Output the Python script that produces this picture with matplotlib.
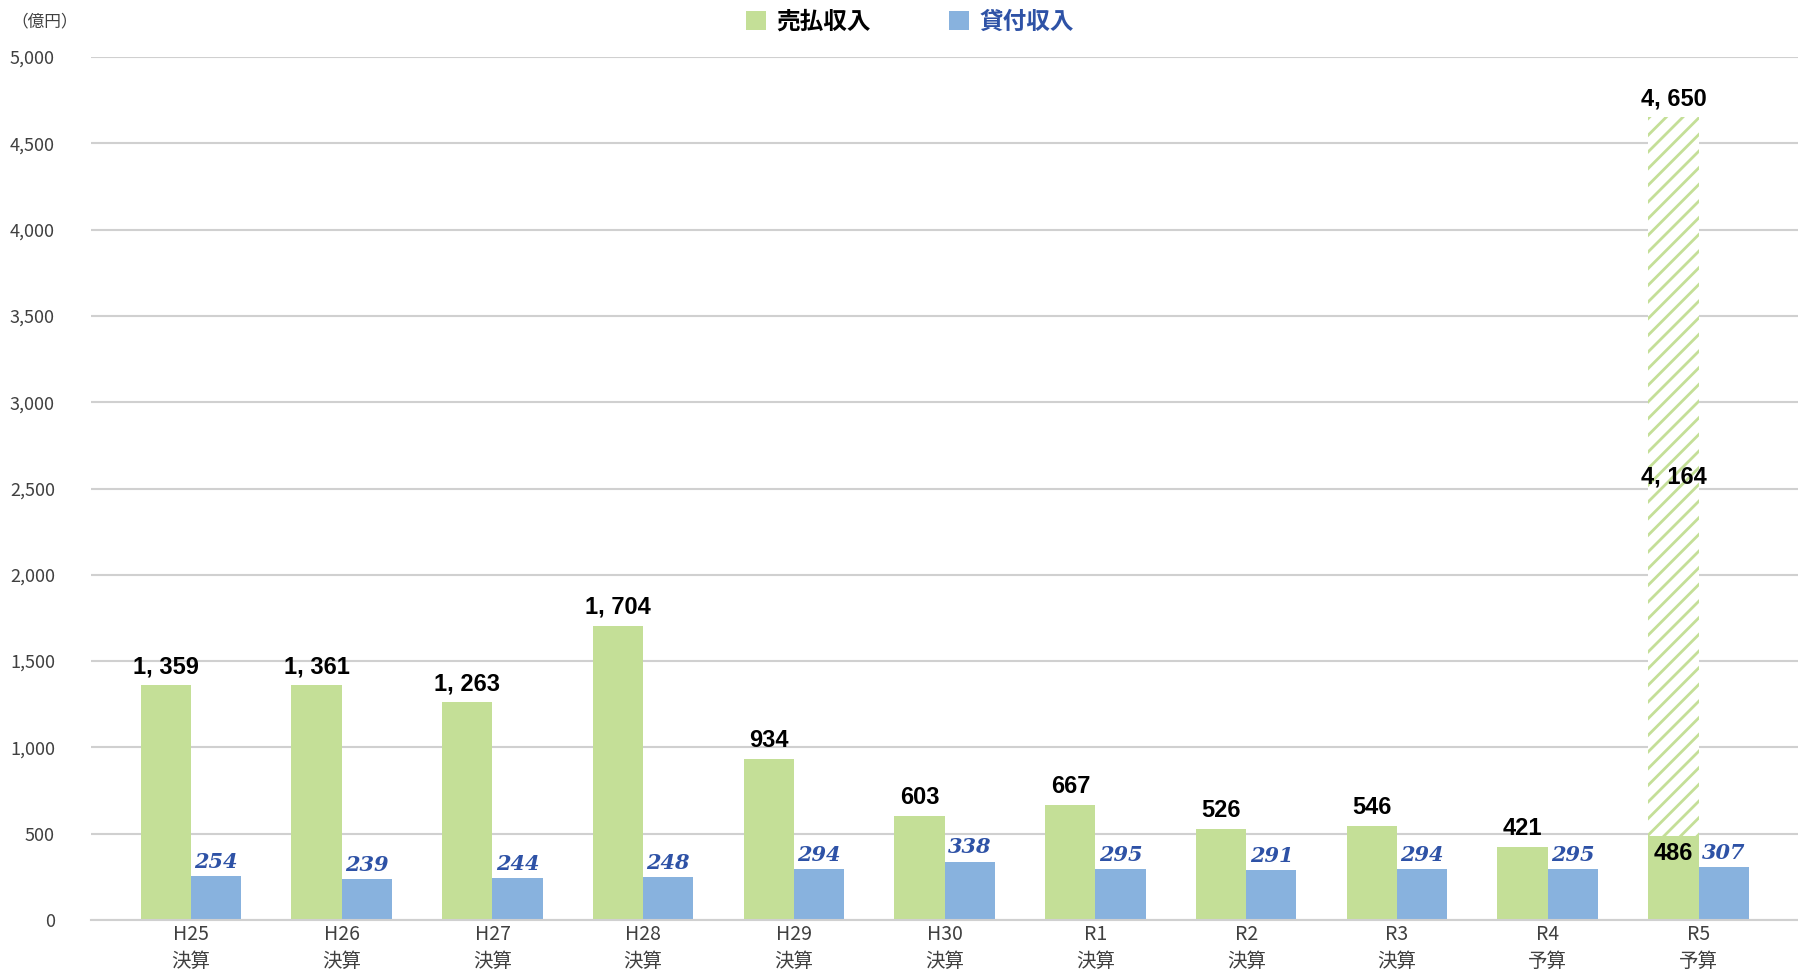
import numpy as np
import matplotlib
matplotlib.use("Agg")
import matplotlib.pyplot as plt
from matplotlib.patches import Patch

plt.rcParams['font.family'] = ['Noto Sans CJK JP', 'DejaVu Sans']
plt.rcParams['hatch.linewidth'] = 2.0

# data
years = ["H25", "H26", "H27", "H28", "H29", "H30", "R1", "R2", "R3", "R4", "R5"]
kinds = ["決算"] * 9 + ["予算"] * 2
sale = [1359, 1361, 1263, 1704, 934, 603, 667, 526, 546, 421, 486]
lend = [254, 239, 244, 248, 294, 338, 295, 291, 294, 295, 307]
sale_extra = [0, 0, 0, 0, 0, 0, 0, 0, 0, 0, 4164]   # hatched part on R5
yticks = [0, 500, 1000, 1500, 2000, 2500, 3000, 3500, 4000, 4500, 5000]

green = "#C4DF97"
blue = "#88B2DE"
label_blue = "#2E52A6"
grid_c = "#D0D0D0"
num_font = ['Liberation Sans Narrow', 'Liberation Sans', 'DejaVu Sans']

fig = plt.figure(figsize=(17.98, 9.74), dpi=100)
ax = fig.add_axes([91/1798, 1-920/974, 1-91/1798, (920-57)/974])

x = np.arange(len(years))
w = 1/3
b1 = ax.bar(x - w/2, sale, w, color=green, zorder=2)
b2 = ax.bar(x + w/2, lend, w, color=blue, zorder=2)
b3 = ax.bar(x - w/2, sale_extra, w, bottom=sale, facecolor="white",
            edgecolor=green, hatch="//", linewidth=0, zorder=2)

def fmt(v):
    s = f"{v:,}"
    return s.replace(",", ", ")

for i in range(len(years)):
    total = sale[i] + sale_extra[i]
    ax.annotate(fmt(total), (x[i] - w/2, total), xytext=(0, 5), textcoords="offset points",
                ha="center", va="bottom", fontsize=17, fontweight="bold",
                family=num_font, color="black", zorder=4)
    ax.annotate(str(lend[i]), (x[i] + w/2, lend[i]), xytext=(0, 3), textcoords="offset points",
                ha="center", va="bottom", fontsize=15, fontstyle="italic",
                fontweight="bold", family=['DejaVu Serif'], color=label_blue, zorder=4)
    if sale_extra[i] > 0:
        ax.annotate(str(sale[i]), (x[i] - w/2, sale[i]), xytext=(0, -4), textcoords="offset points",
                    ha="center", va="top", fontsize=17, fontweight="bold",
                    family=num_font, color="black", zorder=4)
        ax.text(x[i] - w/2, sale[i] + sale_extra[i]/2, fmt(sale_extra[i]),
                ha="center", va="center", fontsize=17, fontweight="bold",
                family=num_font, color="black", zorder=4)

ax.set_xlim(-0.663, 10.66)
ax.set_ylim(0, 5000)
ax.set_yticks(yticks)
ax.set_yticklabels([f"{v:,}" for v in yticks], fontsize=13, color="#404040")
ax.set_xticks(x)
ax.set_xticklabels([f"{a}\n{b}" for a, b in zip(years, kinds)], fontsize=14,
                   color="#404040", linespacing=1.35)
ax.tick_params(axis="both", length=0)
ax.tick_params(axis="y", pad=26)
ax.tick_params(axis="x", pad=3)
ax.grid(axis="y", color=grid_c, linewidth=1.5, zorder=0)
ax.set_axisbelow(True)
for s in ["top", "right", "left"]:
    ax.spines[s].set_visible(False)
ax.spines["bottom"].set_color(grid_c)
ax.spines["bottom"].set_linewidth(1.5)

fig.text(11/1798, 1-22/974, "（億円）", fontsize=12, color="#404040", va="center", ha="left")

handles = [Patch(facecolor=green, label="売払収入"), Patch(facecolor=blue, label="貸付収入")]
leg = fig.legend(handles=handles, loc="upper center", bbox_to_anchor=(910/1798, 1.012),
                 ncol=2, frameon=False, handlelength=0.85, handleheight=0.85,
                 handletextpad=0.45, columnspacing=3.3, prop={'size': 17, 'weight': 'bold'})
leg.get_texts()[0].set_color("black")
leg.get_texts()[1].set_color(label_blue)

fig.savefig("out.png", dpi=100)
